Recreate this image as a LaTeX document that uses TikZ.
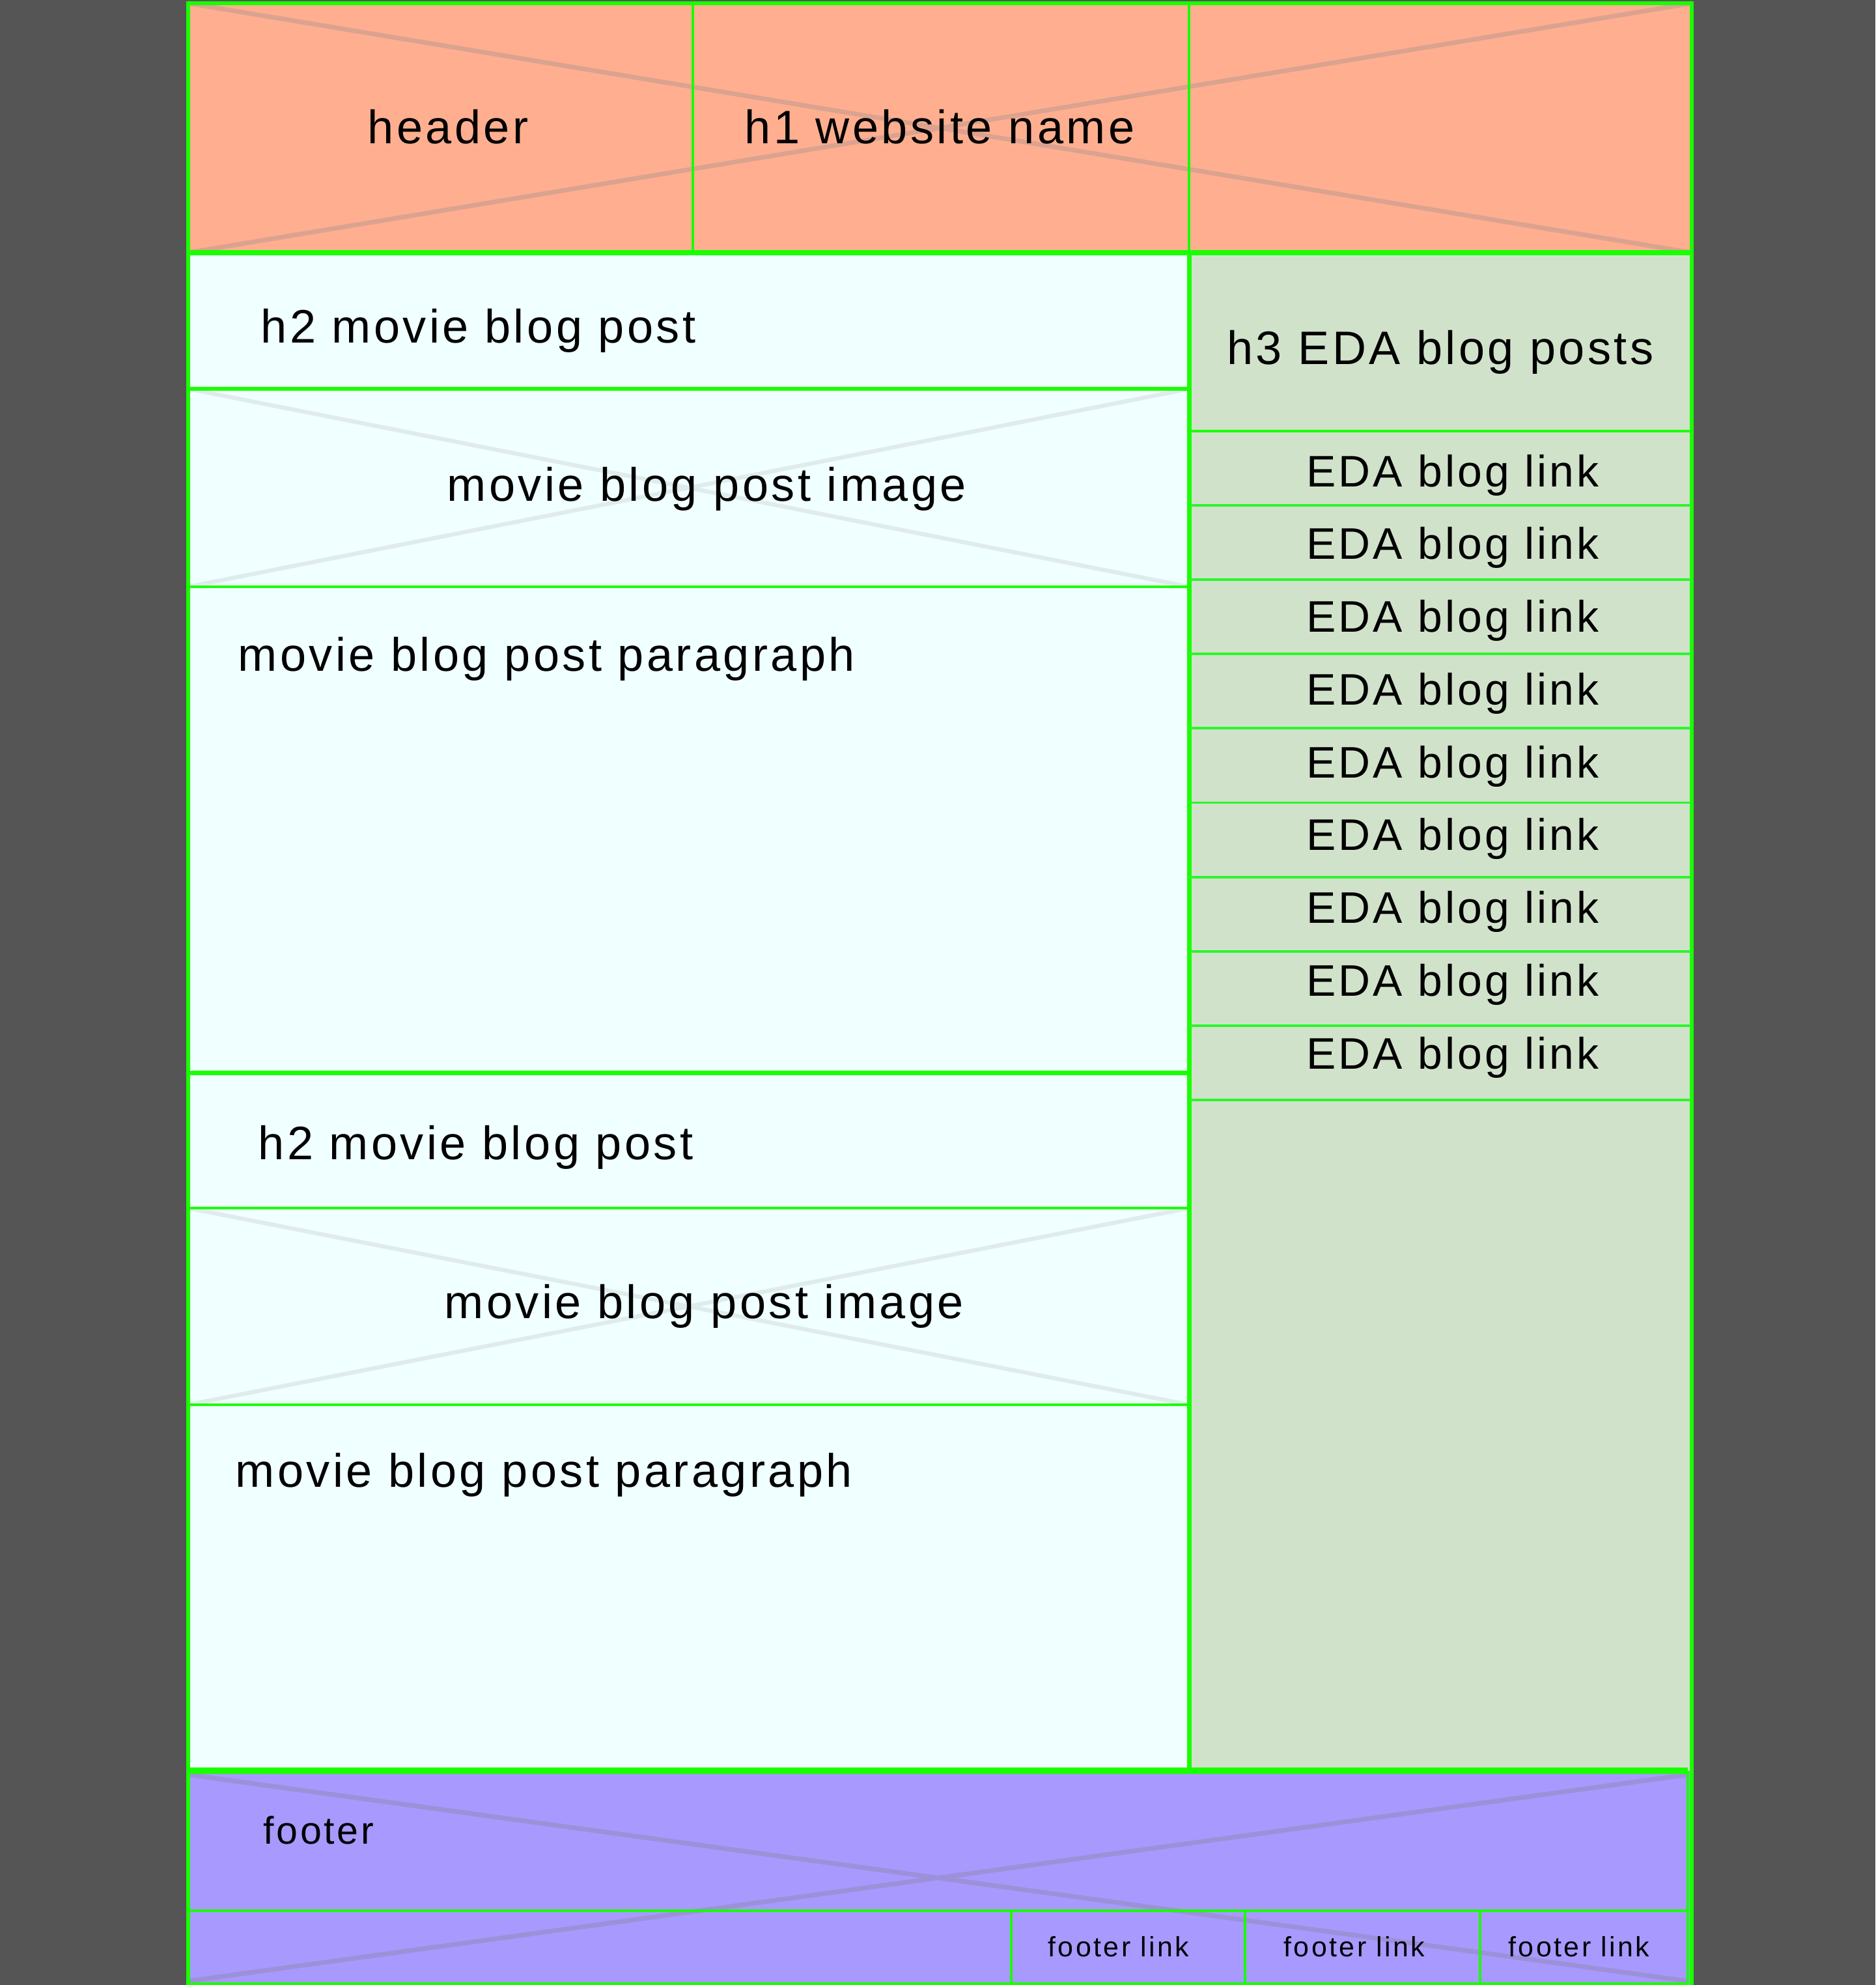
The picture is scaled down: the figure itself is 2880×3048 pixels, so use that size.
\documentclass[tikz,border=0pt]{standalone}
\usepackage{fontspec}
\setmainfont{Liberation Sans}
\newfontfamily\trackedfont[LetterSpace=6.2]{Liberation Sans}
\newfontfamily\widetrackedfont[LetterSpace=8]{Liberation Sans}
\usetikzlibrary{fit}

\definecolor{pagebg}{HTML}{555555}
\definecolor{wire}{HTML}{19FF00}
\definecolor{linkwire}{HTML}{2CF52C}
\definecolor{hdrfill}{HTML}{FFAF8F}
\definecolor{hdrcross}{HTML}{DCA290}
\definecolor{mainfill}{HTML}{F0FFFF}
\definecolor{imgcross}{HTML}{E0ECEC}
\definecolor{sidefill}{HTML}{D1E2CA}
\definecolor{footfill}{HTML}{A899FF}
\definecolor{footcross}{HTML}{9C90D8}

\begin{document}
\begin{tikzpicture}[x=0.01cm,y=-0.01cm,
  region/.style={inner sep=0pt, outer sep=0pt, draw=none, rectangle},
  bigtext/.style={inner sep=0pt, font={\trackedfont\fontsize{20.5pt}{24pt}\selectfont}},
  linktext/.style={inner sep=0pt, font={\trackedfont\fontsize{19.3pt}{23pt}\selectfont}},
  foottext/.style={inner sep=0pt, font={\trackedfont\fontsize{16.8pt}{20pt}\selectfont}},
  smalltext/.style={inner sep=0pt, font={\widetrackedfont\fontsize{12.2pt}{15pt}\selectfont}},
  cross/.style={line width=2pt},
  thickline/.style={draw=wire, line width=2pt},
  midline/.style={draw=wire, line width=1.5pt},
  thinline/.style={draw=wire, line width=1.15pt},
  linkline/.style={draw=linkwire, line width=1.1pt}
]
% backdrop
\fill[pagebg] (0,0) rectangle (2880,3048);
\useasboundingbox (0,0) rectangle (2880,3048);

% ---------- filled regions ----------
\node[region, fill=hdrfill, fit={(289,5) (2598,388)}] (hdr) {};
\node[region, fit={(289,5) (1064,388)}] (hdrA) {};
\node[region, fit={(1064,5) (1826,388)}] (hdrB) {};
\node[region, fit={(1826,5) (2598,388)}] (hdrC) {};

\node[region, fill=mainfill, fit={(289,388) (1826,2719)}] (leftcol) {};
\node[region, fit={(289,388) (1826,597)}] (h2a) {};
\node[region, fit={(289,597) (1826,901)}] (imga) {};
\node[region, fit={(289,901) (1826,1647)}] (para) {};
\node[region, fit={(289,1647) (1826,1855)}] (h2b) {};
\node[region, fit={(289,1855) (1826,2157)}] (imgb) {};
\node[region, fit={(289,2157) (1826,2719)}] (parb) {};

\node[region, fill=sidefill, fit={(1826,388) (2598,2721)}] (rightcol) {};
\node[region, fit={(1826,388) (2598,662)}] (h3box) {};
\foreach \i in {0,...,8}{
  \pgfmathsetmacro\ytop{662+114.1*\i}
  \pgfmathsetmacro\ybot{662+114.1*(\i+1)}
  \node[region, fit={(1826,\ytop) (2598,\ybot)}] (link\i) {};
}

\node[region, fill=footfill, fit={(289,2719) (2598,3048)}] (footer) {};
\node[region, fit={(289,2719) (2592,2934)}] (foot) {};
\node[region, fit={(289,2934) (2592,3046)}] (frow) {};
\node[region, fit={(1553,2934) (1912,3046)}] (fl1) {};
\node[region, fit={(1912,2934) (2273,3046)}] (fl2) {};
\node[region, fit={(2273,2934) (2592,3046)}] (fl3) {};

% ---------- placeholder crosses ----------
\draw[cross, hdrcross] (hdr.north west) -- (hdr.south east) (hdr.south west) -- (hdr.north east);
\draw[cross, imgcross, line width=1.8pt] (imga.north west) -- (imga.south east) (imga.south west) -- (imga.north east);
\draw[cross, imgcross, line width=1.8pt] (imgb.north west) -- (imgb.south east) (imgb.south west) -- (imgb.north east);
\coordinate (fxA) at (289,2725);
\coordinate (fxB) at (2592,3042);
\coordinate (fxC) at (289,3042);
\coordinate (fxD) at (2592,2725);
\draw[cross, footcross] (fxA) -- (fxB) (fxC) -- (fxD);

% ---------- borders ----------
\draw[midline] (289,3048) -- (289,5) -- (2598,5) -- (2598,3048);
\draw[thickline] (hdr.south west) -- (hdr.south east);
\draw[thinline] (hdrA.north east) -- (hdrA.south east);
\draw[thinline] (hdrB.north east) -- (hdrB.south east);

\draw[midline] (h2a.south west) -- (h2a.south east);
\draw[thinline] (imga.south west) -- (imga.south east);
\draw[thickline] (para.south west) -- (para.south east);
\draw[thinline] (h2b.south west) -- (h2b.south east);
\draw[thinline] (imgb.south west) -- (imgb.south east);
\draw[thickline] (leftcol.north east) -- (leftcol.south east);

\draw[thinline] (h3box.south west) -- (h3box.south east);
\foreach \i in {0,...,8}{
  \draw[linkline] (link\i.south west) -- (link\i.south east);
}

\draw[thickline, line width=2.6pt] (foot.north west) -- (foot.north east);
\draw[thinline] (foot.south west) -- (foot.south east);
\draw[thinline] (foot.north east) -- (frow.south east);
\draw[thinline] (fl1.north west) -- (fl1.south west);
\draw[thinline] (fl2.north west) -- (fl2.south west);
\draw[thinline] (fl3.north west) -- (fl3.south west);
\draw[thinline] (frow.south west) -- (frow.south east);

% ---------- labels ----------
\node[bigtext, anchor=base] (tHeader) at (688,220) {header};
\node[bigtext, anchor=base] (tSite) at (1443,220) {h1 website name};

\node[bigtext, anchor=base west] (tH2a) at (400,526) {h2 movie blog post};
\node[bigtext, anchor=base west] (tImga) at (686,769) {movie blog post image};
\node[bigtext, anchor=base west] (tPara) at (365,1030) {movie blog post paragraph};
\node[bigtext, anchor=base west] (tH2b) at (396,1780) {h2 movie blog post};
\node[bigtext, anchor=base west] (tImgb) at (682,2024) {movie blog post image};
\node[bigtext, anchor=base west] (tParb) at (361,2283) {movie blog post paragraph};

\node[bigtext, anchor=base] (tH3) at (2212,559) {h3 EDA blog posts};
\foreach \i in {0,...,8}{
  \pgfmathsetmacro\ybase{747+111.75*\i}
  \node[linktext, anchor=base] (tLink\i) at (2231,\ybase) {EDA blog link};
}

\node[foottext, anchor=base west] (tFooter) at (404,2831) {footer};
\node[smalltext, anchor=base] (tFl1) at (1718,3004) {footer link};
\node[smalltext, anchor=base] (tFl2) at (2080,3004) {footer link};
\node[smalltext, anchor=base] (tFl3) at (2425,3004) {footer link};
\end{tikzpicture}
\end{document}
